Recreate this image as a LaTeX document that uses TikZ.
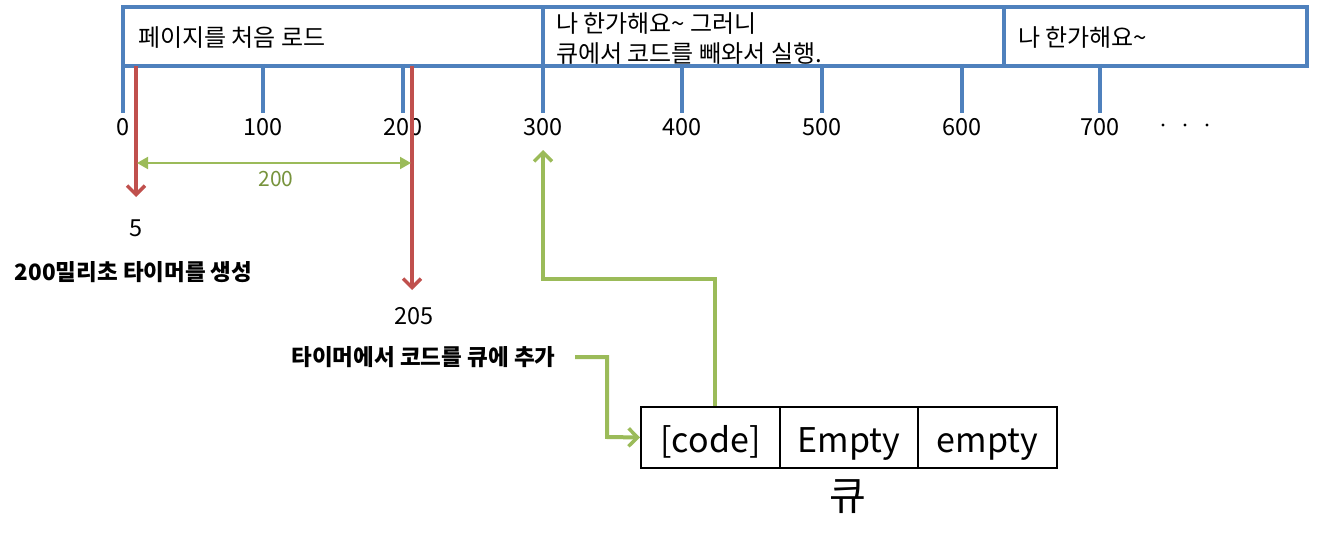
\documentclass[tikz,border=0pt]{standalone}
\usepackage{fontspec}
\setmainfont{Noto Sans CJK KR}
\usetikzlibrary{arrows.meta}
\definecolor{tblue}{HTML}{4F81BD}
\definecolor{tred}{HTML}{C0504D}
\definecolor{tgreen}{HTML}{9BBB59}
\definecolor{tdgreen}{HTML}{77933C}
\tikzset{
  bluebox/.style={draw=tblue, line width=4pt},
  tick/.style={draw=tblue, line width=4pt},
  ticklbl/.style={font=\fontsize{23.5}{26}\selectfont, inner sep=0pt, anchor=base},
  boxtxt/.style={font=\fontsize{24}{30}\selectfont, inner sep=0pt, anchor=west, align=left},
  redarrow/.style={draw=tred, line width=4pt, -{Straight Barb[length=9pt,width=18pt,line width=3.5pt]}},
  greenarrow/.style={draw=tgreen, line width=4pt, -{Straight Barb[length=9pt,width=18pt,line width=3.5pt]}},
  dimarrow/.style={draw=tgreen, line width=2pt, {Triangle[length=11pt,width=12pt]}-{Triangle[length=11pt,width=12pt]}},
  lbl/.style={font=\fontsize{23.5}{26}\selectfont, inner sep=0pt, anchor=base},
  boldlbl/.style={font=\bfseries\fontsize{22.5}{26}\selectfont, inner sep=0pt},
  cell/.style={draw=black, line width=2pt, minimum height=61pt, inner sep=0pt},
  celltxt/.style={font=\fontsize{34}{40}\selectfont, inner sep=0pt, anchor=base},
}
\begin{document}
\begin{tikzpicture}[x=1pt,y=-1pt]
\useasboundingbox (0,0) rectangle (1343,543);
% top box
\draw[bluebox] (123,7) rectangle (1307,66);
\draw[bluebox] (543,7) -- (543,66);
\draw[bluebox] (1004,7) -- (1004,66);
\node[boxtxt] (t1) at (138,38) {페이지를 처음 로드};
\node[boxtxt] (t2) at (556,38.5) {나 한가해요\textasciitilde{} 그러니\\큐에서 코드를 빼와서 실행.};
\node[boxtxt] (t3) at (1018,38) {나 한가해요\textasciitilde};
% ticks
\foreach \x/\v [count=\i] in {123/0,263/100,403/200,543/300,682/400,822/500,962/600,1100/700}{
  \draw[tick] (\x,64) -- (\x,113);
  \node[ticklbl] (tk\i) at (\x,135) {\v};
}
\foreach \x [count=\i] in {1163,1185,1207}{
  \fill (\x,125) circle (1.6pt);
}
% red arrows
\coordinate (r1s) at (136,66);
\coordinate (r1e) at (136,197);
\coordinate (r2s) at (412,66);
\coordinate (r2e) at (412,290);
\draw[redarrow] (r1s) -- (r1e);
\draw[redarrow] (r2s) -- (r2e);
% dimension
\coordinate (d1) at (137,163);
\coordinate (d2) at (411,163);
\draw[dimarrow] (d1) -- (d2);
\node[font=\fontsize{21}{24}\selectfont, text=tdgreen, inner sep=0pt] (dl) at (276,179) {200};
% labels
\node[lbl] (n5) at (136,236) {5};
\node[boldlbl] (lab1) at (133.5,272) {200밀리초 타이머를 생성};
\node[lbl] (n205) at (414,324) {205};
\node[boldlbl] (lab2) at (423.5,357) {타이머에서 코드를 큐에 추가};
% queue
\node[cell, minimum width=139pt] (c1) at (710.5,437.5) {};
\node[cell, minimum width=138pt] (c2) at (849,437.5) {};
\node[cell, minimum width=139pt] (c3) at (987.5,437.5) {};
\node[celltxt] (c1t) at (710.5,452) {[code]};
\node[celltxt] (c2t) at (849,452) {Empty};
\node[celltxt] (c3t) at (987.5,452) {empty};
\node[font=\fontsize{40}{44}\selectfont, inner sep=0pt] (q) at (848,497) {큐};
% green connectors
\coordinate (g1s) at (575,357);
\draw[greenarrow] (g1s) -- (607,357) -- (607,437) -- (c1.west);
\coordinate (g2e) at (543,150);
\draw[greenarrow] (c1.north -| 715,406) -- (715,279) -- (543,279) -- (g2e);
\end{tikzpicture}
\end{document}
